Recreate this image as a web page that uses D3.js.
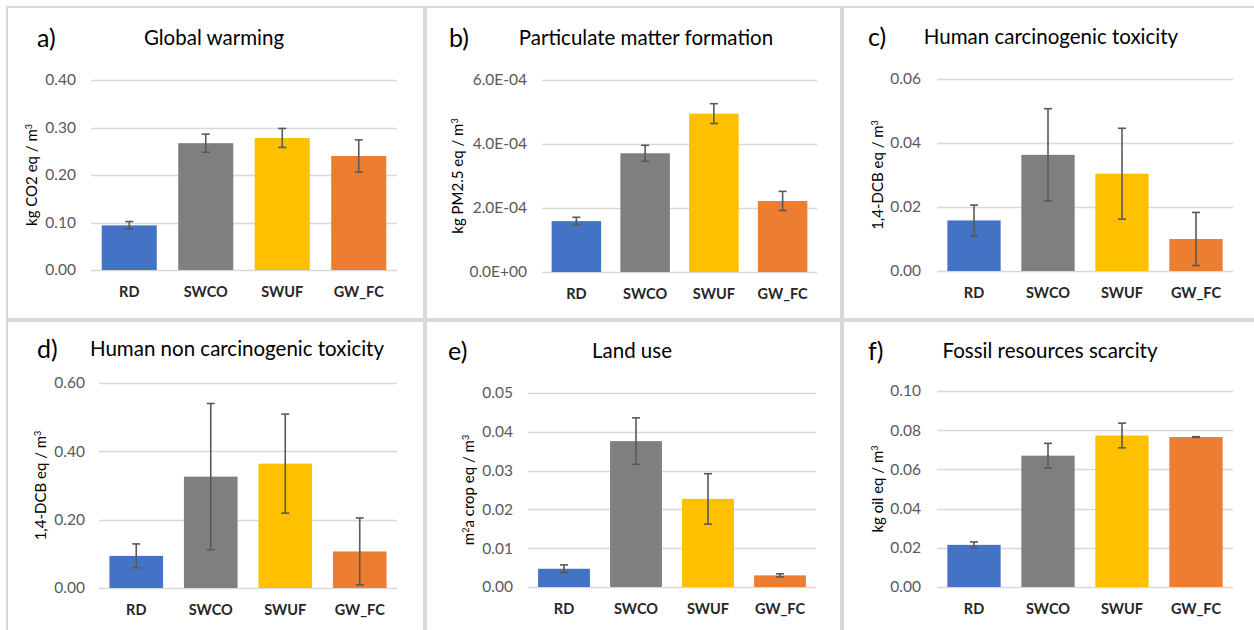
<!DOCTYPE html>
<html>
<head>
<meta charset="utf-8">
<script src="https://cdn.jsdelivr.net/npm/d3@7"></script>
<style>
  body { margin: 0; background: #fff; }
  svg { display: block; font-family: Lato, "Open Sans", sans-serif; }
  .grid line { stroke: #d9d9d9; stroke-width: 1.3; }
  .tick-label { fill: #595959; font-size: 15.5px; }
  .cat-label { fill: #262626; font-size: 14.5px; font-weight: bold; }
  .title { fill: #000; font-size: 20.5px; }
  .letter { fill: #000; font-size: 25px; }
  .ytitle { fill: #000; font-size: 15px; }
  .err { stroke: #595959; stroke-width: 1.6; fill: none; }
</style>
</head>
<body>
<svg id="chart" width="1254" height="630"></svg>
<script>
/*** Data ***/
const categories = ["RD", "SWCO", "SWUF", "GW_FC"];
const barColors = ["#4472c4", "#7f7f7f", "#ffc000", "#ed7d31"];

// a) Global warming
const gwMean = [0.094, 0.267, 0.278, 0.240];
const gwErr = [0.008, 0.019, 0.020, 0.034];
const gwTicks = [0, 0.1, 0.2, 0.3, 0.4];
// b) Particulate matter formation
const pmMean = [1.59e-4, 3.71e-4, 4.95e-4, 2.22e-4];
const pmErr = [0.12e-4, 0.25e-4, 0.31e-4, 0.30e-4];
const pmTicks = [0, 2e-4, 4e-4, 6e-4];
// c) Human carcinogenic toxicity
const hcMean = [0.0158, 0.0363, 0.0304, 0.0100];
const hcErr = [0.0048, 0.0144, 0.0142, 0.0083];
const hcTicks = [0, 0.02, 0.04, 0.06];
// d) Human non carcinogenic toxicity
const hncMean = [0.094, 0.326, 0.364, 0.107];
const hncErr = [0.035, 0.214, 0.145, 0.098];
const hncTicks = [0, 0.2, 0.4, 0.6];
// e) Land use
const luMean = [0.0047, 0.0376, 0.0227, 0.0030];
const luErr = [0.0010, 0.0060, 0.0065, 0.0004];
const luTicks = [0, 0.01, 0.02, 0.03, 0.04, 0.05];
// f) Fossil resources scarcity
const frMean = [0.0215, 0.0670, 0.0773, 0.0765];
const frErr = [0.0015, 0.0063, 0.0063, 0.0002];
const frTicks = [0, 0.02, 0.04, 0.06, 0.08, 0.10];

// Excel style scientific format, e.g. 6.0E-04
function sci(v) {
  if (v === 0) return "0.0E+00";
  let e = Math.floor(Math.log10(Math.abs(v)));
  let m = v / Math.pow(10, e);
  return m.toFixed(1) + "E" + (e < 0 ? "-" : "+") + String(Math.abs(e)).padStart(2, "0");
}
const f2 = d3.format(".2f");

/*** Panels (layout) ***/
const panels = [
  {letter: "a)", title: "Global warming", mean: gwMean, err: gwErr, ticks: gwTicks, fmt: f2,
   ytitle: ["kg CO2 eq / m", "3"], frame: [7, 7, 424, 319],
   x0: 91, x1: 397, yTop: 80, yBot: 270, titleX: 214, letterX: 37, headY: 38, yTitleX: 32, tickR: 76},
  {letter: "b)", title: "Particulate matter formation", mean: pmMean, err: pmErr, ticks: pmTicks, fmt: sci,
   ytitle: ["kg PM2.5 eq / m", "3"], frame: [426, 7, 841, 319],
   x0: 542, x1: 817, yTop: 80, yBot: 272, titleX: 646, letterX: 449, headY: 38, yTitleX: 458, tickR: 527},
  {letter: "c)", title: "Human carcinogenic toxicity", mean: hcMean, err: hcErr, ticks: hcTicks, fmt: f2,
   ytitle: ["1,4-DCB eq / m", "3"], frame: [843, 7, 1258, 319],
   x0: 937, x1: 1233, yTop: 79, yBot: 271, titleX: 1051, letterX: 868, headY: 37, yTitleX: 878, tickR: 921},
  {letter: "d)", title: "Human non carcinogenic toxicity", mean: hncMean, err: hncErr, ticks: hncTicks, fmt: f2,
   ytitle: ["1,4-DCB eq / m", "3"], frame: [7, 321, 424, 634],
   x0: 99, x1: 397, yTop: 383, yBot: 588, titleX: 237, letterX: 37, headY: 349, yTitleX: 41, tickR: 85},
  {letter: "e)", title: "Land use", mean: luMean, err: luErr, ticks: luTicks, fmt: f2,
   ytitle: ["m", "2", "a crop eq / m", "3"], frame: [426, 321, 841, 634],
   x0: 528, x1: 816, yTop: 393, yBot: 587, titleX: 632, letterX: 448, headY: 351, yTitleX: 469, tickR: 513},
  {letter: "f)", title: "Fossil resources scarcity", mean: frMean, err: frErr, ticks: frTicks, fmt: f2,
   ytitle: ["kg oil eq / m", "3"], frame: [843, 321, 1258, 634],
   x0: 937, x1: 1233, yTop: 391, yBot: 587, titleX: 1050, letterX: 868, headY: 351, yTitleX: 878, tickR: 921}
];

const svg = d3.select("#chart");

panels.forEach(function(p) {
  let g = svg.append("g");
  let fr = p.frame;
  // Chart frame
  g.append("rect")
      .attr("x", fr[0]).attr("y", fr[1])
      .attr("width", fr[2] - fr[0]).attr("height", fr[3] - fr[1])
      .attr("fill", "#fff").attr("stroke", "#d9d9d9").attr("stroke-width", 2);

  let x = d3.scaleBand().domain(categories).range([p.x0, p.x1])
      .paddingInner(0.28).paddingOuter(0.14);
  let yMax = p.ticks[p.ticks.length - 1];
  let y = d3.scaleLinear().domain([0, yMax]).range([p.yBot, p.yTop]);

  // Gridlines
  g.append("g").attr("class", "grid").selectAll("line")
      .data(p.ticks).enter()
      .append("line")
          .attr("x1", p.x0).attr("x2", p.x1)
          .attr("y1", d => Math.round(y(d)) + 0.5).attr("y2", d => Math.round(y(d)) + 0.5);

  // Tick labels
  g.selectAll(".tick-label")
      .data(p.ticks).enter()
      .append("text")
          .attr("class", "tick-label")
          .attr("x", p.tickR).attr("y", d => y(d))
          .attr("dy", "0.35em")
          .style("text-anchor", "end")
          .text(d => p.fmt(d));

  // Bars
  let rows = categories.map((c, i) => ({cat: c, v: p.mean[i], e: p.err[i], color: barColors[i]}));
  g.selectAll(".bar")
      .data(rows).enter()
      .append("rect")
          .attr("class", "bar")
          .attr("x", d => x(d.cat))
          .attr("width", x.bandwidth())
          .attr("y", d => y(d.v))
          .attr("height", d => y(0) - y(d.v))
          .attr("fill", d => d.color);

  // Error bars
  let cap = 4;
  let eb = g.selectAll(".errbar").data(rows).enter().append("g").attr("class", "err");
  eb.append("line")
      .attr("x1", d => x(d.cat) + x.bandwidth() / 2).attr("x2", d => x(d.cat) + x.bandwidth() / 2)
      .attr("y1", d => y(d.v + d.e)).attr("y2", d => y(Math.max(0, d.v - d.e)));
  eb.append("line")
      .attr("x1", d => x(d.cat) + x.bandwidth() / 2 - cap).attr("x2", d => x(d.cat) + x.bandwidth() / 2 + cap)
      .attr("y1", d => y(d.v + d.e)).attr("y2", d => y(d.v + d.e));
  eb.append("line")
      .attr("x1", d => x(d.cat) + x.bandwidth() / 2 - cap).attr("x2", d => x(d.cat) + x.bandwidth() / 2 + cap)
      .attr("y1", d => y(Math.max(0, d.v - d.e))).attr("y2", d => y(Math.max(0, d.v - d.e)));

  // Category labels
  g.selectAll(".cat-label")
      .data(categories).enter()
      .append("text")
          .attr("class", "cat-label")
          .attr("x", d => x(d) + x.bandwidth() / 2)
          .attr("y", p.yBot + 22)
          .attr("dy", "0.35em")
          .style("text-anchor", "middle")
          .text(d => d);

  // Title and panel letter
  g.append("text").attr("class", "title")
      .attr("x", p.titleX).attr("y", p.headY).attr("dy", "0.35em")
      .style("text-anchor", "middle").text(p.title);
  g.append("text").attr("class", "letter")
      .attr("x", p.letterX).attr("y", p.headY).attr("dy", "0.35em")
      .text(p.letter);

  // Y axis title with superscripts
  let yt = g.append("text").attr("class", "ytitle")
      .attr("transform", "translate(" + p.yTitleX + "," + ((p.yTop + p.yBot) / 2) + ") rotate(-90)")
      .attr("dy", "0.35em")
      .style("text-anchor", "middle");
  p.ytitle.forEach(function(part, i) {
    let isSup = /^[0-9]$/.test(part);
    yt.append("tspan")
        .attr("font-size", isSup ? "9px" : null)
        .attr("baseline-shift", isSup ? "super" : null)
        .text(part);
  });
});
</script>
</body>
</html>
